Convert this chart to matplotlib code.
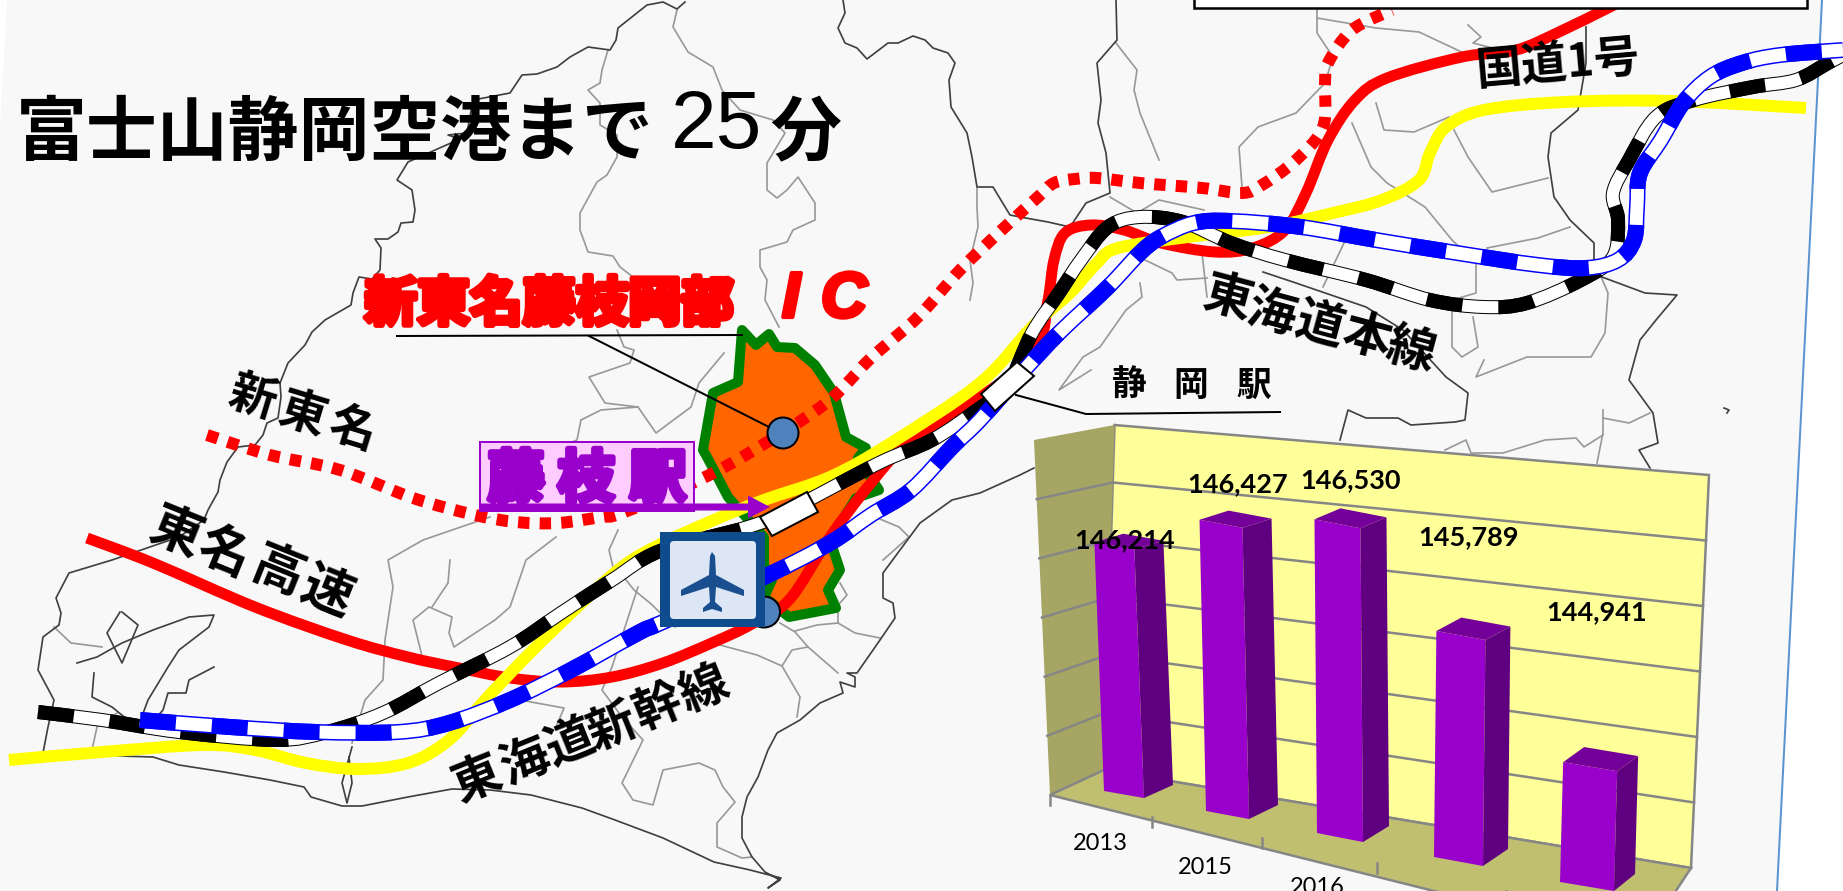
import numpy as np
import matplotlib
matplotlib.use('Agg')
import matplotlib.pyplot as plt
import matplotlib.patheffects as pe
from matplotlib.path import Path
from matplotlib.patches import PathPatch, Polygon, Ellipse, Rectangle, FancyBboxPatch

W, H = 1843, 891
CJK = ['Noto Sans CJK JP', 'DejaVu Sans']
LATIN = ['Lato', 'DejaVu Sans']

# visitors per year
years = ['2013', '2015', '2016']
visitors = [146214, 146427, 146530, 145789, 144941]
axis_min = 144000
axis_max = 147000
axis_ticks = [144500, 145000, 145500, 146000, 146500]

# bar base corners on the floor (front left, front right, back right)
bar_fl = [(1104, 791), (1206, 811), (1317, 833), (1434, 857), (1560, 882)]
bar_fr = [(1144, 798), (1249, 819), (1363, 842), (1483, 866), (1614, 891)]
bar_br = [(1173, 785), (1278, 805), (1389, 826), (1508, 849), (1635, 874)]
bar_scale = [337, 360, 372, 379, 382]
bar_lean = [-13, -8, -3, 4, 10]
label_pos = [(1125, 540), (1238, 484), (1351, 480), (1469, 537), (1597, 612)]
year_pos = [(1100, 844), (1205, 867), (1317, 888)]
floor_ticks = [(1050, 795), (1152, 817), (1262, 838), (1377, 863), (1506, 891)]

# routes
tomei = [(87, 538), (153, 563), (255, 607), (347, 640), (408, 657), (459, 668), (510, 678),
         (561, 682), (612, 677), (663, 663), (714, 642), (750, 625), (789, 600), (830, 537),
         (871, 483), (911, 440), (980, 397), (1035, 353), (1048, 300), (1054, 260), (1065, 233),
         (1091, 225), (1124, 230), (1161, 243), (1215, 252), (1253, 248), (1285, 230), (1306, 193),
         (1328, 140), (1355, 100), (1387, 78), (1462, 57), (1516, 50), (1559, 32), (1608, 8), (1624, 0)]
shin_tomei = [(207, 435), (270, 455), (340, 470), (413, 498), (475, 515), (516, 522), (558, 523),
              (601, 517), (622, 513), (699, 480), (754, 450), (826, 403), (871, 358), (918, 317),
              (960, 270), (1005, 227), (1038, 197), (1054, 183), (1075, 179), (1097, 178), (1140, 183),
              (1202, 188), (1242, 193), (1262, 185), (1296, 160), (1323, 127), (1325, 83), (1328, 63),
              (1352, 30), (1392, 10)]
route1 = [(9, 760), (102, 752), (204, 745), (255, 750), (306, 763), (357, 769), (408, 763), (449, 740),
          (485, 700), (526, 657), (571, 613), (622, 567), (663, 543), (714, 520), (764, 500), (830, 477),
          (891, 443), (980, 383), (1032, 327), (1070, 293), (1097, 263), (1118, 248), (1188, 237),
          (1269, 227), (1333, 213), (1382, 200), (1419, 180), (1430, 153), (1446, 127), (1484, 110),
          (1565, 102), (1672, 101), (1806, 108)]
honsen = [(38, 712), (102, 720), (179, 732), (276, 740), (327, 732), (383, 713), (439, 683), (510, 647),
          (561, 613), (612, 580), (660, 551), (748, 527), (789, 510), (879, 463), (932, 440), (980, 408),
          (1007, 387), (1032, 333), (1059, 293), (1081, 260), (1108, 227), (1140, 217), (1183, 222),
          (1231, 243), (1285, 260), (1366, 280), (1430, 300), (1484, 307), (1527, 303), (1581, 280),
          (1613, 257), (1618, 220), (1613, 193), (1629, 160), (1656, 117), (1694, 100), (1753, 87),
          (1796, 80), (1828, 63), (1843, 55)]
shinkansen = [(140, 720), (230, 727), (316, 732), (398, 732), (449, 723), (510, 700), (571, 670), (638, 633),
              (663, 622), (764, 577), (830, 543), (871, 515), (911, 490), (952, 447), (980, 420), (1027, 367),
              (1059, 333), (1108, 287), (1140, 253), (1161, 237), (1194, 223), (1231, 221), (1301, 227),
              (1376, 240), (1457, 253), (1538, 265), (1586, 268), (1618, 260), (1634, 240), (1637, 207),
              (1640, 173), (1661, 140), (1683, 103), (1710, 77), (1742, 63), (1780, 55), (1843, 50)]

# city area
city = [(742, 330), (756, 345), (769, 334), (777, 347), (795, 348), (815, 365), (834, 393), (846, 437),
        (866, 448), (858, 458), (879, 490), (856, 498), (830, 540), (840, 570), (828, 590), (836, 608),
        (789, 617), (764, 597), (772, 580), (764, 565), (764, 537), (728, 497), (707, 457), (703, 450),
        (713, 393), (738, 382)]

# dark boundary and coast lines
dark_lines = [
    [(685, 2), (677, 9), (663, 2), (647, 5), (618, 28), (616, 40), (610, 50), (588, 47), (570, 57), (557, 67),
     (537, 74), (522, 75), (510, 93), (473, 100), (467, 133), (448, 135), (460, 139), (408, 162), (397, 180),
     (412, 190), (415, 210), (413, 222), (401, 223), (398, 232), (388, 239), (375, 239), (381, 248), (380, 270),
     (372, 279), (359, 277), (353, 293), (351, 305), (325, 320), (312, 332), (305, 345), (288, 363), (280, 383),
     (281, 397), (278, 418), (267, 423), (263, 435), (255, 445), (238, 447), (227, 462), (220, 480), (218, 492),
     (208, 510), (204, 520), (179, 537), (112, 560), (69, 573), (56, 598), (61, 613), (59, 625), (43, 637),
     (38, 670), (54, 700), (48, 727), (43, 753)],
    [(43, 753), (87, 755), (153, 757), (179, 765), (224, 772), (270, 780), (304, 787), (311, 797), (342, 806),
     (362, 806), (408, 797), (452, 789), (490, 790), (531, 795), (582, 808), (615, 820), (663, 838), (714, 862),
     (750, 870), (781, 878), (768, 888), (780, 880), (765, 872), (752, 857), (742, 838), (742, 817), (747, 797),
     (758, 777), (768, 750), (777, 733), (800, 720), (820, 703), (843, 693), (840, 682), (855, 687), (855, 677),
     (847, 673), (857, 673), (880, 640), (895, 618), (893, 603), (883, 598), (883, 573), (920, 523), (952, 500),
     (980, 493), (1020, 475), (1034, 468)],
    [(843, 0), (845, 13), (838, 28), (845, 43), (857, 48), (867, 59), (888, 43), (898, 43), (913, 36), (925, 40),
     (933, 48), (948, 53), (955, 63), (949, 80), (951, 107), (967, 133), (972, 157), (977, 187), (993, 187),
     (1010, 215), (1020, 217), (1048, 222), (1070, 227), (1086, 203), (1110, 193), (1106, 153), (1098, 123),
     (1101, 100), (1097, 63), (1117, 40), (1116, 0)],
    [(1586, 27), (1586, 63), (1578, 110), (1551, 133), (1548, 157), (1554, 197), (1570, 220), (1594, 243), (1594, 260)],
    [(1602, 277), (1645, 293), (1677, 295), (1656, 320), (1640, 340), (1629, 380), (1653, 413), (1658, 443),
     (1639, 450), (1650, 468)],
    [(1263, 272), (1296, 283), (1366, 307), (1403, 330), (1446, 377), (1468, 393), (1465, 420), (1455, 422),
     (1411, 425), (1398, 418), (1366, 418), (1348, 410), (1340, 440)],
    [(120, 612), (107, 633), (122, 663), (138, 625), (122, 612)],
    [(77, 663), (97, 657), (122, 643), (153, 630), (189, 617), (214, 615), (209, 627), (179, 650), (168, 667),
     (148, 700), (138, 727)],
    [(94, 673), (92, 697), (112, 707), (128, 720)],
    [(214, 667), (189, 680), (186, 693), (168, 693), (163, 710), (148, 727)],
    [(352, 747), (342, 783), (347, 803), (352, 783), (349, 757)],
    [(1724, 408), (1729, 410), (1727, 413)],
]

# grey municipal boundaries
grey_lines = [
    [(608, 50), (602, 70), (600, 83), (588, 90), (600, 103), (600, 125), (617, 135), (617, 157), (607, 175), (597, 182),
     (580, 213), (580, 230), (588, 252), (613, 256), (620, 267), (633, 277)],
    [(677, 10), (673, 27), (688, 52), (713, 67), (722, 90), (740, 110), (773, 120), (785, 133), (767, 163), (767, 190),
     (777, 198), (787, 190), (798, 177), (815, 203), (815, 220), (793, 230), (787, 242), (760, 250), (760, 267),
     (767, 280), (765, 300), (779, 327)],
    [(977, 188), (977, 207), (978, 227), (970, 260), (973, 283), (970, 300)],
    [(617, 330), (624, 347), (634, 350), (630, 363), (589, 377), (605, 403), (638, 407), (656, 433), (691, 407),
     (699, 383), (724, 353)],
    [(581, 420), (601, 410), (638, 407)],
    [(581, 420), (577, 440), (552, 450)],
    [(556, 537), (526, 560), (510, 607), (495, 620), (454, 647), (449, 633), (452, 617), (429, 607), (413, 620), (423, 660)],
    [(490, 517), (423, 540), (388, 560), (393, 587), (385, 640), (383, 680), (365, 700), (352, 743)],
    [(450, 560), (448, 583), (432, 607)],
    [(618, 530), (609, 550), (613, 567), (626, 580), (634, 590), (650, 603), (675, 627)],
    [(520, 700), (564, 708), (556, 727)],
    [(638, 587), (612, 667), (602, 690), (622, 717), (643, 740), (622, 783), (633, 800), (653, 805), (663, 770),
     (699, 763), (715, 770), (723, 787), (735, 802), (717, 823), (717, 847), (742, 858), (752, 857)],
    [(720, 645), (757, 655), (782, 666), (792, 650), (808, 647), (795, 632), (780, 623)],
    [(782, 666), (800, 697), (797, 717)],
    [(808, 647), (838, 673)],
    [(795, 631), (817, 625), (838, 623), (855, 633), (880, 638)],
    [(838, 623), (838, 613)],
    [(840, 603), (847, 595), (840, 583)],
    [(875, 517), (899, 527), (909, 537), (883, 560)],
    [(54, 627), (71, 643), (102, 647)],
    [(92, 750), (97, 727), (117, 713)],
    [(1317, 10), (1317, 33), (1333, 57), (1325, 83), (1296, 113), (1258, 127), (1239, 147), (1242, 187)],
    [(1317, 18), (1376, 28), (1419, 32), (1468, 55)],
    [(1468, 25), (1481, 37), (1473, 43), (1500, 50)],
    [(1352, 123), (1371, 167), (1387, 183), (1425, 207), (1452, 240), (1476, 263), (1476, 293), (1452, 300), (1452, 347),
     (1462, 357), (1478, 347), (1473, 317)],
    [(1376, 103), (1384, 130), (1414, 132), (1449, 117)],
    [(1454, 130), (1468, 157), (1492, 192), (1548, 178)],
    [(1487, 248), (1538, 238), (1570, 227)],
    [(1594, 260), (1608, 293), (1605, 333), (1591, 357), (1527, 357), (1476, 377), (1484, 360)],
    [(1140, 283), (1142, 297), (1126, 310), (1100, 347), (1083, 357), (1059, 390), (1091, 370)],
    [(1145, 260), (1172, 273), (1177, 280), (1207, 278)],
    [(1204, 210), (1159, 200), (1137, 213), (1110, 197)],
    [(1159, 160), (1140, 113), (1134, 90), (1137, 70), (1116, 43)],
    [(1202, 253), (1207, 297)],
    [(1344, 243), (1323, 287)],
    [(1445, 450), (1466, 440), (1471, 453), (1503, 453), (1545, 440), (1576, 438), (1584, 447), (1603, 435)],
    [(1603, 410), (1603, 433), (1597, 463)],
    [(1603, 418), (1629, 423), (1650, 413)],
]

tomei_labels = ['東', '名', '高', '速']
tomei_label_pos = [(176, 533), (224, 553), (278, 572), (327, 593)]
shin_tomei_labels = ['新', '東', '名']
shin_tomei_label_pos = [(252, 398), (302, 415), (353, 430)]
shinkansen_labels = ['東', '海', '道', '新', '幹', '線']
shinkansen_label_pos = [(477, 780), (525, 762), (571, 743), (612, 727), (658, 708), (704, 690)]
honsen_labels = ['東', '海', '道', '本', '線']
honsen_label_pos = [(1228, 298), (1272, 313), (1320, 325), (1366, 337), (1411, 350)]
station_labels = ['静', '岡', '駅']
station_label_pos = [(1129, 385), (1191, 385), (1254, 385)]
fujieda_labels = ['藤', '枝', '駅']
fujieda_label_pos = [(516, 480), (586, 480), (658, 480)]


def smooth(points):
    # catmull-rom through the points, as a bezier path
    p = np.array(points, dtype=float)
    q = np.vstack([p[0], p, p[-1]])
    verts = [p[0]]
    codes = [Path.MOVETO]
    for i in range(1, len(q) - 2):
        verts += [q[i] + (q[i + 1] - q[i - 1]) / 6, q[i + 1] - (q[i + 2] - q[i]) / 6, q[i + 1]]
        codes += [Path.CURVE4] * 3
    return Path(verts, codes)


def px(n):
    # line widths are given in pixels
    return n * 72 / 100


def stroke_route(points, color, width, dashes=None, z=3):
    ls = '-' if dashes is None else (0, dashes)
    ax.add_patch(PathPatch(smooth(points), fill=False, ec=color, lw=px(width), ls=ls, capstyle='butt', zorder=z))


def rail(points, color, width, bed, z):
    # outline, white bed, then the dashes on top
    stroke_route(points, color, width, z=z)
    stroke_route(points, 'white', bed, z=z + 0.01)
    stroke_route(points, color, width, dashes=(36 / width, 36 / width), z=z + 0.02)


def put_chars(chars, pos, size, rot=0, color='black', z=6, bold=0.0):
    for c, (x, y) in zip(chars, pos):
        t = ax.text(x, y, c, fontsize=size, rotation=rot, rotation_mode='anchor', ha='center', va='center',
                    family=CJK, fontweight='bold', color=color, zorder=z)
        if bold:
            t.set_path_effects([pe.withStroke(linewidth=bold, foreground=color)])


fig = plt.figure(figsize=(W / 100, H / 100), dpi=100, facecolor='white')
ax = fig.add_axes([0, 0, 1, 1])
ax.set_xlim(0, W)
ax.set_ylim(H, 0)
ax.axis('off')

# map page
ax.add_patch(Polygon([(7, 0), (1822, 0), (1777, 891), (0, 891), (0, 127)], fc='#F8F8F8', ec='none', zorder=0))
ax.plot([1822, 1777], [0, 891], color='#5B93D0', lw=px(2), zorder=1)

for line in grey_lines:
    ax.plot(*zip(*line), color='#999999', lw=px(1.7), solid_joinstyle='round', zorder=1)
for line in dark_lines:
    ax.plot(*zip(*line), color='#404040', lw=px(1.7), solid_joinstyle='round', zorder=1.1)

# city area
ax.add_patch(Polygon(city, closed=True, fc='#FF6600', ec='#008000', lw=px(10), joinstyle='round', zorder=2))

# roads and lines
stroke_route(tomei, '#FF0000', 11, z=3)
stroke_route(route1, '#FFFF00', 12, z=3.1)
stroke_route(shin_tomei, '#FF0000', 12, dashes=(0.95, 0.85), z=3.2)
rail(honsen, 'black', 14, 12, 3.3)
rail(shinkansen, '#0000FF', 16, 13, 3.4)

# box cut off at the top edge
ax.add_patch(Rectangle((1194, -6), 613, 13.5, fc='white', ec='black', lw=px(2.5), zorder=3.9))

# interchange marker, leader lines
ax.add_patch(Ellipse((783, 433), 31, 31, fc='#4F81BD', ec='black', lw=px(2), zorder=3.5))
ax.plot([397, 742], [336, 335], color='black', lw=px(2), zorder=3.6)
ax.plot([589, 769], [336, 427], color='black', lw=px(2), zorder=3.6)
ax.plot([1016, 1086, 1280], [395, 414, 412], color='black', lw=px(2), zorder=3.6)

# stations
ax.add_patch(Polygon([(760, 517), (807, 492), (818, 512), (772, 536)], fc='white', ec='black', lw=px(2), zorder=4))
ax.add_patch(Polygon([(981, 394), (1017, 362), (1034, 376), (995, 411)], fc='white', ec='black', lw=px(2), zorder=4))

# airport icon
ax.add_patch(Ellipse((764, 612), 32, 31, fc='#4F81BD', ec='black', lw=px(2), zorder=4))
ax.add_patch(Rectangle((660, 532), 105, 95, fc='#0F4C8E', ec='none', zorder=4.1))
ax.add_patch(FancyBboxPatch((672, 543), 82, 74, boxstyle='round,pad=2,rounding_size=4', fc='#DDE6F5', ec='none', zorder=4.2))
plane = [(712, 552), (715, 556), (716, 575), (744, 590), (744, 596), (716, 587), (715, 602), (722, 608), (722, 612),
         (712, 609), (703, 612), (703, 608), (710, 602), (709, 587), (681, 596), (681, 590), (709, 575), (710, 556)]
ax.add_patch(Polygon(plane, fc='#1A4F8F', ec='none', zorder=4.3))

# station callout
ax.add_patch(Rectangle((480, 442), 214, 69, fc='#FFCCFF', ec='#9900CC', lw=px(2), zorder=4.4))
ax.arrow(480, 507, 290, 0, width=7, head_width=23, head_length=22, length_includes_head=True,
         fc='#9900CC', ec='none', zorder=4.5)
put_chars(fujieda_labels, fujieda_label_pos, 41, color='#9900CC', z=4.6, bold=4)

# chart walls
wall_back = [(1114.5, 425), (1709, 475), (1691, 868), (1104, 770)]
wall_left = [(1034, 440), (1114.5, 425), (1104, 770), (1050, 795)]
floor = [(1050, 795), (1104, 770), (1691, 868), (1660, 915), (1530, 915)]
ax.add_patch(Polygon(wall_back, fc='#FFFF99', ec='#868686', lw=px(2.5), zorder=5))
ax.add_patch(Polygon(wall_left, fc='#A6A564', ec='none', zorder=5))
ax.add_patch(Polygon(floor, fc='#BFBF6F', ec='#868686', lw=px(2.5), zorder=5))


def frac(v):
    return (v - axis_min) / (axis_max - axis_min)


for v in axis_ticks:
    f = frac(v)
    left = (1050 + (1034 - 1050) * f, 795 + (440 - 795) * f)
    mid = (1104 + (1114.5 - 1104) * f, 770 + (425 - 770) * f)
    right = (1691 + (1709 - 1691) * f, 868 + (475 - 868) * f)
    ax.plot([left[0], mid[0], right[0]], [left[1], mid[1], right[1]], color='#868686', lw=px(2.5), zorder=5.1)

for x, y in floor_ticks:
    ax.plot([x, x], [y, y + 10], color='#868686', lw=px(2.5), zorder=5.1)

# bars
for i, v in enumerate(visitors):
    f = frac(v)
    dx, h = bar_lean[i] * f, bar_scale[i] * f
    back_h = (bar_scale[i] - 6) * f
    fl, fr, br = bar_fl[i], bar_fr[i], bar_br[i]
    tl = (fl[0] + dx, fl[1] - h)
    tr = (fr[0] + dx, fr[1] - h)
    tb = (br[0] + dx, br[1] - back_h)
    tk = (tl[0] + tb[0] - tr[0], tl[1] + tb[1] - tr[1])
    ax.add_patch(Polygon([fl, fr, tr, tl], fc='#9900CC', ec='none', zorder=5.2))
    ax.add_patch(Polygon([fr, br, tb, tr], fc='#5F0080', ec='none', zorder=5.2))
    ax.add_patch(Polygon([tl, tr, tb, tk], fc='#730099', ec='none', zorder=5.2))

for v, (x, y) in zip(visitors, label_pos):
    ax.text(x, y, f'{v:,}', fontsize=19.5, family=LATIN, fontweight='bold', ha='center', va='center', zorder=6)
for y_label, (x, y) in zip(years, year_pos):
    ax.text(x, y, y_label, fontsize=17, family=LATIN, ha='center', va='center', zorder=6)

# map labels
ax.text(16, 134, '富士山静岡空港まで', fontsize=51, family=CJK, fontweight='bold', ha='left', va='center', zorder=6)
ax.text(671, 127, '25', fontsize=59, family=['Liberation Sans'], ha='left', va='center', zorder=6)
ax.text(770, 134, '分', fontsize=51, family=CJK, fontweight='bold', ha='left', va='center', zorder=6)
put_chars(shin_tomei_labels, shin_tomei_label_pos, 34, rot=-17)
put_chars(tomei_labels, tomei_label_pos, 37, rot=-22)
put_chars(shinkansen_labels, shinkansen_label_pos, 35, rot=22)
put_chars(honsen_labels, honsen_label_pos, 35, rot=-15)
put_chars(station_labels, station_label_pos, 25)
ax.text(1558, 65, '国道1号', fontsize=33, rotation=5, rotation_mode='anchor', family=CJK, fontweight='bold',
        ha='center', va='center', zorder=6)

red = ax.text(549, 305, '新東名藤枝岡部', fontsize=38, family=CJK, fontweight='bold', color='#FF0000',
              ha='center', va='center', zorder=6)
red.set_path_effects([pe.withStroke(linewidth=4, foreground='#FF0000')])
for c, x in zip('IC', [791, 844]):
    t = ax.text(x, 300, c, fontsize=46, family=['Liberation Sans'], fontweight='bold', style='italic', color='#FF0000',
                ha='center', va='center', zorder=6)
    t.set_path_effects([pe.withStroke(linewidth=3, foreground='#FF0000')])

fig.savefig('out.png', dpi=100)
